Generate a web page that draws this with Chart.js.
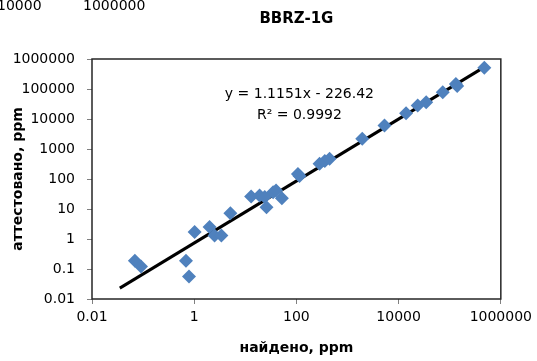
<!DOCTYPE html>
<html>
<head>
<meta charset="utf-8">
<script src="https://cdn.jsdelivr.net/npm/chart.js@4/dist/chart.umd.min.js"></script>
<style>
  body { margin: 0; background: #fff; }
  #wrap { position: relative; width: 537px; height: 361px; overflow: hidden; }
  .frag { position: absolute; top: -3px; font: 14px "DejaVu Sans", sans-serif; color: #000; }
</style>
</head>
<body>
<div id="wrap">
  <div class="frag" style="left:-3px">10000</div>
  <div class="frag" style="left:83px">1000000</div>
  <canvas id="chart" width="537" height="361"></canvas>
</div>
<script>
// found (x) vs certified (y) values, ppm
const found = [0.069, 0.091, 0.69, 0.79, 1.02, 2.0, 2.5, 3.4, 5.1, 13, 19, 24, 26, 35, 40, 52,
  107, 115, 284, 360, 446, 1940, 5300, 14000, 23600, 34600, 73000, 132000, 140000, 475000];
const certified = [0.19, 0.12, 0.19, 0.056, 1.7, 2.5, 1.3, 1.3, 7.2, 26, 28, 25, 11.5, 36, 41, 23,
  148, 125, 323, 400, 470, 2190, 6100, 15600, 28000, 36500, 78000, 148000, 125000, 510000];

// trendline ends as drawn
const trendX = [0.035, 510000];
const trendY = [0.023, 580000];

const xTicks = [0.01, 1, 100, 10000, 1000000];
const yTicks = [0.01, 0.1, 1, 10, 100, 1000, 10000, 100000, 1000000];

const chartTitle = "BBRZ-1G";
const xTitle = "найдено, ppm";
const yTitle = "аттестовано, ppm";
const eqLines = ["y = 1.1151x - 226.42", "R² = 0.9992"];

Chart.defaults.font.family = "'DejaVu Sans', sans-serif";
Chart.defaults.font.size = 14;
Chart.defaults.color = "#000";

const boxAndText = {
  id: "boxAndText",
  afterDatasetsDraw(chart) {
    const { ctx, chartArea: a } = chart;
    ctx.save();
    ctx.strokeStyle = "#262626";
    ctx.lineWidth = 1.5;
    ctx.strokeRect(a.left, a.top, a.right - a.left, a.bottom - a.top);
    ctx.fillStyle = "#000";
    ctx.textAlign = "center";
    ctx.textBaseline = "middle";
    ctx.font = "bold 15px 'DejaVu Sans', sans-serif";
    ctx.fillText(chartTitle, (a.left + a.right) / 2, 19);
    ctx.font = "14px 'DejaVu Sans', sans-serif";
    const cx = (a.left + a.right) / 2 + 3;
    ctx.fillText(eqLines[0], cx, a.top + 35);
    ctx.fillText(eqLines[1], cx, a.top + 56);
    ctx.restore();
  }
};

new Chart(document.getElementById("chart"), {
  type: "scatter",
  data: {
    datasets: [
      {
        data: found.map((v, i) => ({ x: v, y: certified[i] })),
        pointStyle: "rectRot",
        pointRadius: 7,
        pointHoverRadius: 7,
        backgroundColor: "#4F81BD",
        borderColor: "#4F81BD",
        borderWidth: 0,
        clip: false
      },
      {
        type: "line",
        data: trendX.map((v, i) => ({ x: v, y: trendY[i] })),
        borderColor: "#000",
        borderWidth: 3,
        pointRadius: 0,
        fill: false
      }
    ]
  },
  options: {
    responsive: false,
    animation: false,
    devicePixelRatio: 1,
    layout: { padding: { top: 59, right: 35, left: 0, bottom: 0 } },
    plugins: { legend: { display: false }, tooltip: { enabled: false } },
    scales: {
      x: {
        type: "logarithmic",
        min: 0.01,
        max: 1000000,
        afterBuildTicks: s => { s.ticks = xTicks.map(v => ({ value: v })); },
        afterFit: s => { s.height = 62; },
        ticks: { callback: v => String(v), maxRotation: 0, autoSkip: false, padding: 5 },
        grid: { drawOnChartArea: false, tickLength: 5, color: "#808080" },
        border: { display: false },
        title: { display: true, text: xTitle, font: { weight: "bold", size: 14 }, padding: { top: 13 } }
      },
      y: {
        type: "logarithmic",
        min: 0.01,
        max: 1000000,
        afterBuildTicks: s => { s.ticks = yTicks.map(v => ({ value: v })); },
        afterFit: s => { s.width = 92; },
        ticks: { callback: v => String(v), autoSkip: false, padding: 12 },
        grid: { drawOnChartArea: false, tickLength: 5, color: "#808080" },
        border: { display: false },
        title: { display: true, text: yTitle, font: { weight: "bold", size: 14 }, padding: { top: 10, bottom: 0 } }
      }
    }
  },
  plugins: [boxAndText]
});
</script>
</body>
</html>
